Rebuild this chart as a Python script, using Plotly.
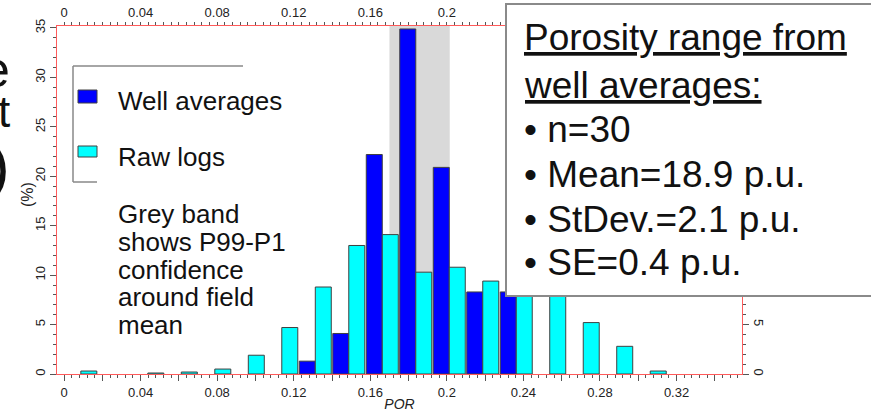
import plotly.graph_objects as go

# ---------------- data ----------------
bin_centers = [0.00875, 0.02625, 0.04375, 0.06125, 0.07875, 0.09625, 0.11375, 0.13125,
               0.14875, 0.16625, 0.18375, 0.20125, 0.21875, 0.23625, 0.25375, 0.27125,
               0.28875, 0.30625]
well_averages = [None, None, None, None, None, None, None, 1.3, 4.1, 22.2, 34.9, 20.9,
                 8.3, 8.3, None, None, None, None]
raw_logs = [0.3, None, 0.1, 0.2, 0.5, 1.9, 4.7, 8.8, 13.0, 14.1, 10.3, 10.8,
            9.4, 8.8, 8.8, 5.2, 2.8, 0.3]
band_p1 = 0.170
band_p99 = 0.2015

x_tickvals = [0, 0.02, 0.04, 0.06, 0.08, 0.10, 0.12, 0.14, 0.16, 0.18, 0.20,
              0.22, 0.24, 0.26, 0.28, 0.30, 0.32, 0.34]
x_ticktext = ['0', '', '0.04', '', '0.08', '', '0.12', '', '0.16', '', '0.2',
              '', '0.24', '', '0.28', '', '0.32', '']
# top axis: labels past 0.2 are hidden behind the statistics box
x_ticktext_top = ['0', '', '0.04', '', '0.08', '', '0.12', '', '0.16', '', '0.2',
                  '', '', '', '', '', '', '']
y_tickvals = [0, 5, 10, 15, 20, 25, 30, 35]
y_ticktext = ['0', '5', '10', '15', '20', '25', '30', '35']
# right axis: labels above 5 are hidden behind the statistics box
y_ticktext_right = ['0', '5', '', '', '', '', '', '']

x_title = 'POR'
y_title = '(%)'
legend_labels = ['Well averages', 'Raw logs']
note_lines = ['Grey band', 'shows P99-P1', 'confidence', 'around field', 'mean']
box_title = ['Porosity range from', 'well averages:']
box_items = ['n=30', 'Mean=18.9 p.u.', 'StDev.=2.1 p.u.', 'SE=0.4 p.u.']
edge_glyphs = ['e', 't', ')']

x_range = [-0.0037, 0.3542]
y_range = [0, 35.2]

# ---------------- layout helpers ----------------
W, H = 871, 412
L, R, T, B = 57, 129, 26, 38
PW, PH = W - L - R, H - T - B


def px(x):
    return (x - L) / PW


def py(y):
    return (H - B - y) / PH


BLUE = '#0000ff'
CYAN = '#00ffff'
OUTLINE = '#404040'
RED = '#ff5a5a'
TICKC = '#555555'
FONT = 'Liberation Sans, Arial, sans-serif'

fig = go.Figure()
fig.add_trace(go.Bar(x=bin_centers, y=well_averages, name=legend_labels[0],
                     marker=dict(color=BLUE, line=dict(color=OUTLINE, width=1))))
fig.add_trace(go.Bar(x=bin_centers, y=raw_logs, name=legend_labels[1],
                     marker=dict(color=CYAN, line=dict(color=OUTLINE, width=1))))
# empty trace so the mirrored top/right axes get drawn
fig.add_trace(go.Scatter(x=[None], y=[None], xaxis='x2', yaxis='y2',
                         showlegend=False, hoverinfo='skip'))

axis_common = dict(showline=True, linecolor=RED, linewidth=1, showgrid=False,
                   zeroline=False, ticks='outside', tickcolor=TICKC, tickwidth=1,
                   tickfont=dict(family=FONT, size=13, color='#222'))

fig.update_layout(
    width=W, height=H,
    margin=dict(l=L, r=R, t=T, b=B, autoexpand=False),
    paper_bgcolor='white', plot_bgcolor='white',
    barmode='group', bargap=0.045, bargroupgap=0,
    showlegend=False,
    font=dict(family=FONT, color='#111'),
    xaxis=dict(range=x_range, tickmode='array', tickvals=x_tickvals, ticktext=x_ticktext,
               ticklen=6,
               minor=dict(tickmode='linear', tick0=0, dtick=0.004, ticks='outside',
                          ticklen=3, tickcolor=TICKC),
               title=dict(text='<i>' + x_title + '</i>',
                          font=dict(family=FONT, size=14, color='#222'), standoff=1),
               **axis_common),
    xaxis2=dict(range=x_range, overlaying='x', side='top', anchor='y2',
                tickmode='array', tickvals=x_tickvals, ticktext=x_ticktext_top, ticklen=3,
                minor=dict(tickmode='linear', tick0=0, dtick=0.004, ticks='outside',
                           ticklen=3, tickcolor=TICKC),
                **axis_common),
    yaxis=dict(range=y_range, tickmode='array', tickvals=y_tickvals, ticktext=y_ticktext,
               tickangle=-90, ticklen=6,
               minor=dict(tickmode='linear', tick0=0, dtick=1, ticks='outside',
                          ticklen=3, tickcolor=TICKC),
               **axis_common),
    yaxis2=dict(range=y_range, overlaying='y', side='right', anchor='x2',
                tickmode='array', tickvals=y_tickvals, ticktext=y_ticktext_right,
                tickangle=90, ticklen=6,
                minor=dict(tickmode='linear', tick0=0, dtick=1, ticks='outside',
                           ticklen=3, tickcolor=TICKC),
                **axis_common),
)

shapes = []
# grey confidence band
shapes.append(dict(type='rect', xref='x', yref='y', x0=band_p1, x1=band_p99,
                   y0=y_range[0], y1=y_range[1], fillcolor='#d9d9d9',
                   line=dict(width=0), layer='below'))
# partial legend frame
for (x0, y0, x1, y1) in [(73, 66, 243, 66), (73, 66, 73, 182), (73, 182, 97, 182)]:
    shapes.append(dict(type='line', xref='paper', yref='paper', x0=px(x0), y0=py(y0),
                       x1=px(x1), y1=py(y1), line=dict(color='#888888', width=1.5),
                       layer='above'))
# legend swatches
for (y0, y1, col) in [(90, 103, BLUE), (146, 157, CYAN)]:
    shapes.append(dict(type='rect', xref='paper', yref='paper', x0=px(78), x1=px(97),
                       y0=py(y1), y1=py(y0), fillcolor=col,
                       line=dict(color=OUTLINE, width=1), layer='above'))
# statistics text box
shapes.append(dict(type='rect', xref='paper', yref='paper', x0=px(506), x1=px(885),
                   y0=py(296), y1=py(4), fillcolor='white',
                   line=dict(color='#8a8a8a', width=2), layer='above'))
fig.update_layout(shapes=shapes)

ann = []
# y-axis title
ann.append(dict(text=y_title, x=px(27), y=py(195), xref='paper', yref='paper',
                xanchor='center', yanchor='middle', textangle=-90, showarrow=False,
                font=dict(family=FONT, size=16, color='#222')))
# legend labels
for label, yc in zip(legend_labels, [101, 157]):
    ann.append(dict(text=label, x=px(116), y=py(yc), xref='paper', yref='paper',
                    xanchor='left', yanchor='middle', showarrow=False,
                    font=dict(family=FONT, size=26, color='#111')))
# note lines
for i, line in enumerate(note_lines):
    ann.append(dict(text=line, x=px(116), y=py(214 + i * 27.8), xref='paper', yref='paper',
                    xanchor='left', yanchor='middle', showarrow=False,
                    font=dict(family=FONT, size=26, color='#111')))
# stats box text
box_lines = ['<u>' + t + '</u>' for t in box_title] + ['\u2022 ' + t for t in box_items]
box_y = [38, 85, 129, 174, 219, 262]
for line, yc in zip(box_lines, box_y):
    ann.append(dict(text=line, x=px(522), y=py(yc), xref='paper', yref='paper',
                    xanchor='left', yanchor='middle', showarrow=False,
                    font=dict(family=FONT, size=37, color='#111')))
# cut-off slide title glyphs at the left edge
for ch, yc, sz in zip(edge_glyphs, [70, 112, 166], [50, 44, 62]):
    ann.append(dict(text=ch, x=px(12), y=py(yc), xref='paper', yref='paper',
                    xanchor='right', yanchor='middle', showarrow=False,
                    font=dict(family=FONT, size=sz, color='#111')))
fig.update_layout(annotations=ann)

fig.write_html('out.html')
